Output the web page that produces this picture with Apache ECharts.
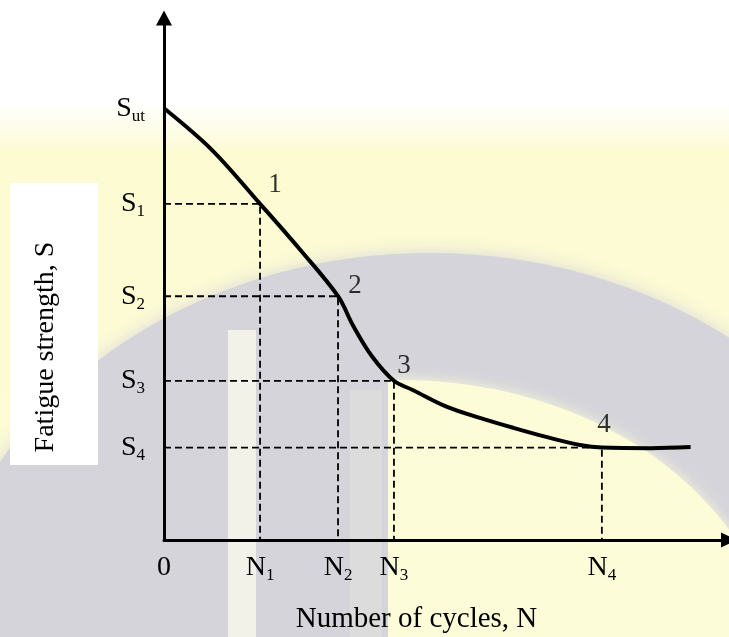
<!DOCTYPE html>
<html>
<head>
<meta charset="utf-8">
<script src="https://cdn.jsdelivr.net/npm/echarts@6/dist/echarts.min.js"></script>
<style>
  html, body { margin: 0; padding: 0; background: #ffffff; }
  #chart { width: 729px; height: 637px; }
</style>
</head>
<body>
<div id="chart"></div>
<script>
// ---- Data (schematic S-N curve) ----
const curveN = [0, 8.5, 17.0, 24.1, 30.8, 33.5, 36.8, 40.7, 44.1, 50.1, 55.9, 61.8, 67.8, 73.6, 77.5, 86.2, 93.2];
const curveS = [82.7, 74.7, 64.4, 55.6, 46.7, 41.0, 35.2, 30.5, 28.7, 25.5, 23.4, 21.5, 19.7, 18.2, 17.7, 17.6, 17.8];

const keyN = [17.0, 30.8, 40.7, 77.5];      // N1..N4
const keyS = [64.4, 46.7, 30.5, 17.7];      // S1..S4
const keyNames = ['1', '2', '3', '4'];
const sUt = 82.7;

const xTickValues = [0, 17.0, 30.8, 40.7, 77.5];
const xTickMain = ['0', 'N', 'N', 'N', 'N'];
const xTickSub = ['', '1', '2', '3', '4'];

const yTickValues = [17.7, 30.5, 46.7, 64.4, 82.7];
const yTickMain = ['S', 'S', 'S', 'S', 'S'];
const yTickSub = ['4', '3', '2', '1', 'ut'];

const xTitle = 'Number of cycles, N';
const yTitle = 'Fatigue strength, S';

// ---- Presentation ----
const FONT = '"Liberation Serif", "Times New Roman", serif';
const labelOffsets = [[15, -19], [17, -10], [10, -15], [2, -23]];

function findIdx(arr, v) {
  for (let i = 0; i < arr.length; i++) if (Math.abs(arr[i] - v) < 1e-6) return i;
  return -1;
}

const rich = {
  m: { fontFamily: FONT, fontSize: 28, lineHeight: 28, color: '#000' },
  s: { fontFamily: FONT, fontSize: 17, lineHeight: 16, padding: [16, 0, 0, 0], color: '#000' }
};

const dashedSeries = keyN.map(function (n, i) {
  return {
    type: 'line',
    data: [[0, keyS[i]], [n, keyS[i]], [n, 0]],
    symbol: 'none',
    silent: true,
    z: 3,
    lineStyle: { color: '#000', width: 1.8, type: [7, 4] }
  };
});

const GRAY = '#d4d4da';
const YEL = '#fdfcd8';

const option = {
  backgroundColor: 'transparent',
  animation: false,
  grid: { left: 164, right: 0, top: 18, bottom: 97, containLabel: false, outerBoundsMode: 'none' },
  graphic: [
    { type: 'rect', silent: true, z: -100, shape: { x: 0, y: 0, width: 729, height: 637 },
      style: { fill: new echarts.graphic.LinearGradient(0, 0, 0, 1, [
        { offset: 0, color: '#ffffff' }, { offset: 0.16, color: '#ffffff' },
        { offset: 0.24, color: '#fcfbd2' }, { offset: 1, color: YEL }]) } },
    { type: 'ellipse', silent: true, z: -99, shape: { cx: 430, cy: 680, rx: 500, ry: 427 },
      style: { fill: GRAY, shadowBlur: 18, shadowColor: 'rgba(212,212,218,0.9)' } },
    { type: 'ellipse', silent: true, z: -98, shape: { cx: 400, cy: 680, rx: 380, ry: 300 },
      style: { fill: YEL, shadowBlur: 14, shadowColor: 'rgba(253,252,216,0.9)' } },
    { type: 'rect', silent: true, z: -97, shape: { x: 0, y: 470, width: 388, height: 167 }, style: { fill: GRAY } },
    { type: 'rect', silent: true, z: -97, shape: { x: 100, y: 370, width: 288, height: 110 }, style: { fill: GRAY } },
    { type: 'rect', silent: true, z: -96, shape: { x: 228, y: 330, width: 28, height: 307 }, style: { fill: 'rgba(255,255,240,0.7)' } },
    { type: 'rect', silent: true, z: -96, shape: { x: 350, y: 390, width: 32, height: 247 }, style: { fill: 'rgba(235,235,225,0.35)' } },
    { type: 'rect', silent: true, z: -50, shape: { x: 10, y: 183, width: 88, height: 282 }, style: { fill: '#ffffff' } },
    { type: 'text', silent: true, z: 10, x: 46, y: 347, rotation: Math.PI / 2,
      style: { text: yTitle, fontFamily: FONT, fontSize: 28, fill: '#000', align: 'center', verticalAlign: 'middle' } }
  ],
  xAxis: {
    type: 'value', min: 0, max: 100,
    axisLine: { show: true, onZero: false, lineStyle: { color: '#000', width: 3 }, symbol: ['none', 'triangle'], symbolSize: [15, 16] },
    axisTick: { show: false },
    splitLine: { show: false },
    axisLabel: {
      customValues: xTickValues,
      margin: 14,
      formatter: function (v) {
        const i = findIdx(xTickValues, v);
        if (i < 0) return '';
        return '{m|' + xTickMain[i] + '}' + (xTickSub[i] ? '{s|' + xTickSub[i] + '}' : '');
      },
      rich: rich
    },
    name: xTitle,
    nameLocation: 'middle',
    nameGap: 64,
    nameTextStyle: { fontFamily: FONT, fontSize: 29, lineHeight: 30, color: '#000', padding: [0, 60, 0, 0] }
  },
  yAxis: {
    type: 'value', min: 0, max: 100,
    axisLine: { show: true, onZero: false, lineStyle: { color: '#000', width: 3 }, symbol: ['none', 'triangle'], symbolSize: [16, 15] },
    axisTick: { show: false },
    splitLine: { show: false },
    axisLabel: {
      customValues: yTickValues,
      margin: 19,
      formatter: function (v) {
        const i = findIdx(yTickValues, v);
        if (i < 0) return '';
        return '{m|' + yTickMain[i] + '}{s|' + yTickSub[i] + '}';
      },
      rich: rich
    }
  },
  series: dashedSeries.concat([
    {
      type: 'line',
      data: curveN.map(function (n, i) { return [n, curveS[i]]; }),
      smooth: 0.35,
      symbol: 'none',
      z: 5,
      lineStyle: { color: '#000', width: 4 }
    },
    {
      type: 'scatter',
      z: 6,
      symbolSize: 1,
      itemStyle: { color: 'rgba(0,0,0,0)' },
      data: keyN.map(function (n, i) {
        return { value: [n, keyS[i]], name: keyNames[i], label: { offset: labelOffsets[i] } };
      }),
      label: {
        show: true, position: 'inside', formatter: '{b}',
        fontFamily: FONT, fontSize: 27, color: '#000'
      }
    }
  ])
};

const chart = echarts.init(document.getElementById('chart'), null, { renderer: 'canvas' });
chart.setOption(option);
</script>
</body>
</html>
